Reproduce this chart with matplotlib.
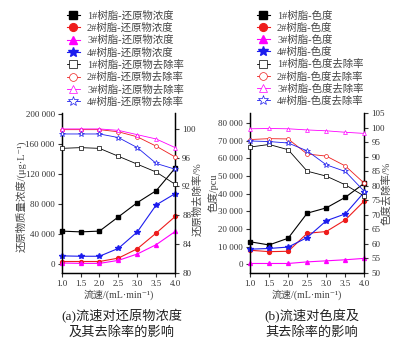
import matplotlib
matplotlib.use("Agg")
import matplotlib.pyplot as plt
from matplotlib.ticker import FuncFormatter, MultipleLocator

plt.rcParams["font.family"] = ["Liberation Serif", "Noto Sans CJK SC", "DejaVu Sans"]
plt.rcParams["axes.unicode_minus"] = False
plt.rcParams["font.size"] = 7

flow = [1.0, 1.5, 2.0, 2.5, 3.0, 3.5, 4.0]
resins = ["1#", "2#", "3#", "4#"]

# reductant concentration in effluent, ug/L
conc_r1 = [44000, 43000, 44000, 63000, 82000, 98000, 128000]
conc_r2 = [3500, 3500, 3500, 8000, 20500, 41500, 63500]
conc_r3 = [1500, 1000, 1000, 5000, 13500, 26000, 43500]
conc_r4 = [11000, 10500, 10500, 21000, 43000, 79000, 94000]

# reductant removal, %
rem_r1 = [97.3, 97.4, 97.3, 96.2, 95.1, 94.0, 92.3]
rem_r2 = [99.9, 99.9, 99.9, 99.6, 98.9, 97.6, 96.1]
rem_r3 = [100.0, 100.0, 100.0, 99.8, 99.2, 98.6, 97.4]
rem_r4 = [99.3, 99.3, 99.3, 98.8, 97.4, 95.2, 94.4]

# colour of effluent, pcu
col_r1 = [12800, 11000, 14800, 29000, 32000, 38000, 46000]
col_r2 = [8000, 7200, 7400, 17600, 18600, 25200, 36000]
col_r3 = [500, 500, 500, 1400, 2000, 2600, 3400]
col_r4 = [8600, 9000, 9800, 15200, 24700, 28600, 41000]

# colour removal, %
colrem_r1 = [93.3, 94.2, 92.4, 85.0, 83.3, 80.3, 76.4]
colrem_r2 = [95.9, 96.2, 96.1, 90.9, 90.2, 86.8, 80.8]
colrem_r3 = [99.6, 99.7, 99.6, 99.2, 98.9, 98.4, 98.0]
colrem_r4 = [95.4, 95.2, 94.7, 92.0, 87.2, 84.9, 78.0]

colors = ["black", "#ee1c1c", "#ff00ff", "#1c1cee"]
markers = ["s", "o", "^", "*"]
msizes = [2.6, 2.8, 2.8, 3.8]

thousands = FuncFormatter(lambda v, p: f"{int(v):,}".replace(",", " "))


def draw_panel(ax, conc, rem, conc_name, rem_name):
    ax2 = ax.twinx()
    handles = []
    for i, series in enumerate(conc):
        (h,) = ax.plot(flow, series, color=colors[i], marker=markers[i],
                       markersize=msizes[i], lw=0.8, clip_on=False, zorder=3,
                       label=f"{resins[i]}树脂-{conc_name}")
        handles.append(h)
    for i, series in enumerate(rem):
        (h,) = ax2.plot(flow, series, color=colors[i], marker=markers[i],
                        markersize=msizes[i], markerfacecolor="white",
                        markeredgewidth=0.5, lw=0.6, clip_on=False, zorder=3,
                        label=f"{resins[i]}树脂-{rem_name}")
        handles.append(h)
    for a in (ax, ax2):
        a.spines["top"].set_visible(False)
        for s in a.spines.values():
            s.set_linewidth(0.9)
        a.tick_params(direction="out", length=3, width=0.8, pad=2,
                      labelsize=6.5, colors="#333333")
    ax.set_xlim(1.0, 4.0)
    ax.xaxis.set_major_locator(MultipleLocator(0.5))
    ax.xaxis.set_major_formatter(FuncFormatter(lambda v, p: f"{v:.1f}"))
    ax.set_xlabel("流速/(mL·min⁻¹)", fontsize=7.2, color="#444444", labelpad=1)
    return ax2, handles


fig = plt.figure(figsize=(4.0, 3.48), dpi=100)
ax_a = fig.add_axes([0.154, 0.216, 0.284, 0.459])
ax_b = fig.add_axes([0.625, 0.216, 0.286, 0.459])

# (a) reductant concentration and removal
ax_a2, h_a = draw_panel(ax_a, [conc_r1, conc_r2, conc_r3, conc_r4],
                        [rem_r1, rem_r2, rem_r3, rem_r4],
                        "还原物浓度", "还原物去除率")
ax_a.set_ylim(-11600, 201300)
ax_a.yaxis.set_major_locator(MultipleLocator(40000))
ax_a.yaxis.set_major_formatter(thousands)
ax_a2.set_ylim(80, 102.2)
ax_a2.yaxis.set_major_locator(MultipleLocator(4))
ax_a.set_ylabel("还原物质量浓度/(μg·L⁻¹)", fontsize=7.5, color="#444444")
ax_a.yaxis.set_label_coords(-0.31, 0.48)
ax_a2.set_ylabel("还原物去除率/%", fontsize=7.5, color="#444444")
ax_a2.yaxis.set_label_coords(1.155, 0.46)

# (b) colour and colour removal
ax_b2, h_b = draw_panel(ax_b, [col_r1, col_r2, col_r3, col_r4],
                        [colrem_r1, colrem_r2, colrem_r3, colrem_r4],
                        "色度", "色度去除率")
ax_b.set_ylim(-4800, 85700)
ax_b.yaxis.set_major_locator(MultipleLocator(10000))
ax_b.yaxis.set_major_formatter(thousands)
ax_b2.set_ylim(50, 105)
ax_b2.yaxis.set_major_locator(MultipleLocator(5))
ax_b.set_ylabel("色度/pcu", fontsize=7.5, color="#444444")
ax_b.yaxis.set_label_coords(-0.275, 0.5)
ax_b2.set_ylabel("色度去除率/%", fontsize=7.5, color="#444444")
ax_b2.yaxis.set_label_coords(1.15, 0.5)

for handles, x0 in ((h_a, 0.155), (h_b, 0.63)):
    fig.legend(handles=handles, loc="upper left",
               bbox_to_anchor=(x0, 0.985), bbox_transform=fig.transFigure,
               frameon=False, fontsize=7.5, markerscale=2.0,
               handlelength=1.2, handletextpad=0.7, labelspacing=0.2,
               borderpad=0, labelcolor="#444444")

fig.text(0.305, 0.069, "(a)流速对还原物浓度\n及其去除率的影响", ha="center",
         va="center", fontsize=9.5, linespacing=1.35, color="#222222")
fig.text(0.78, 0.069, "(b)流速对色度及\n其去除率的影响", ha="center",
         va="center", fontsize=9.5, linespacing=1.35, color="#222222")

fig.savefig("out.png", dpi=100)
